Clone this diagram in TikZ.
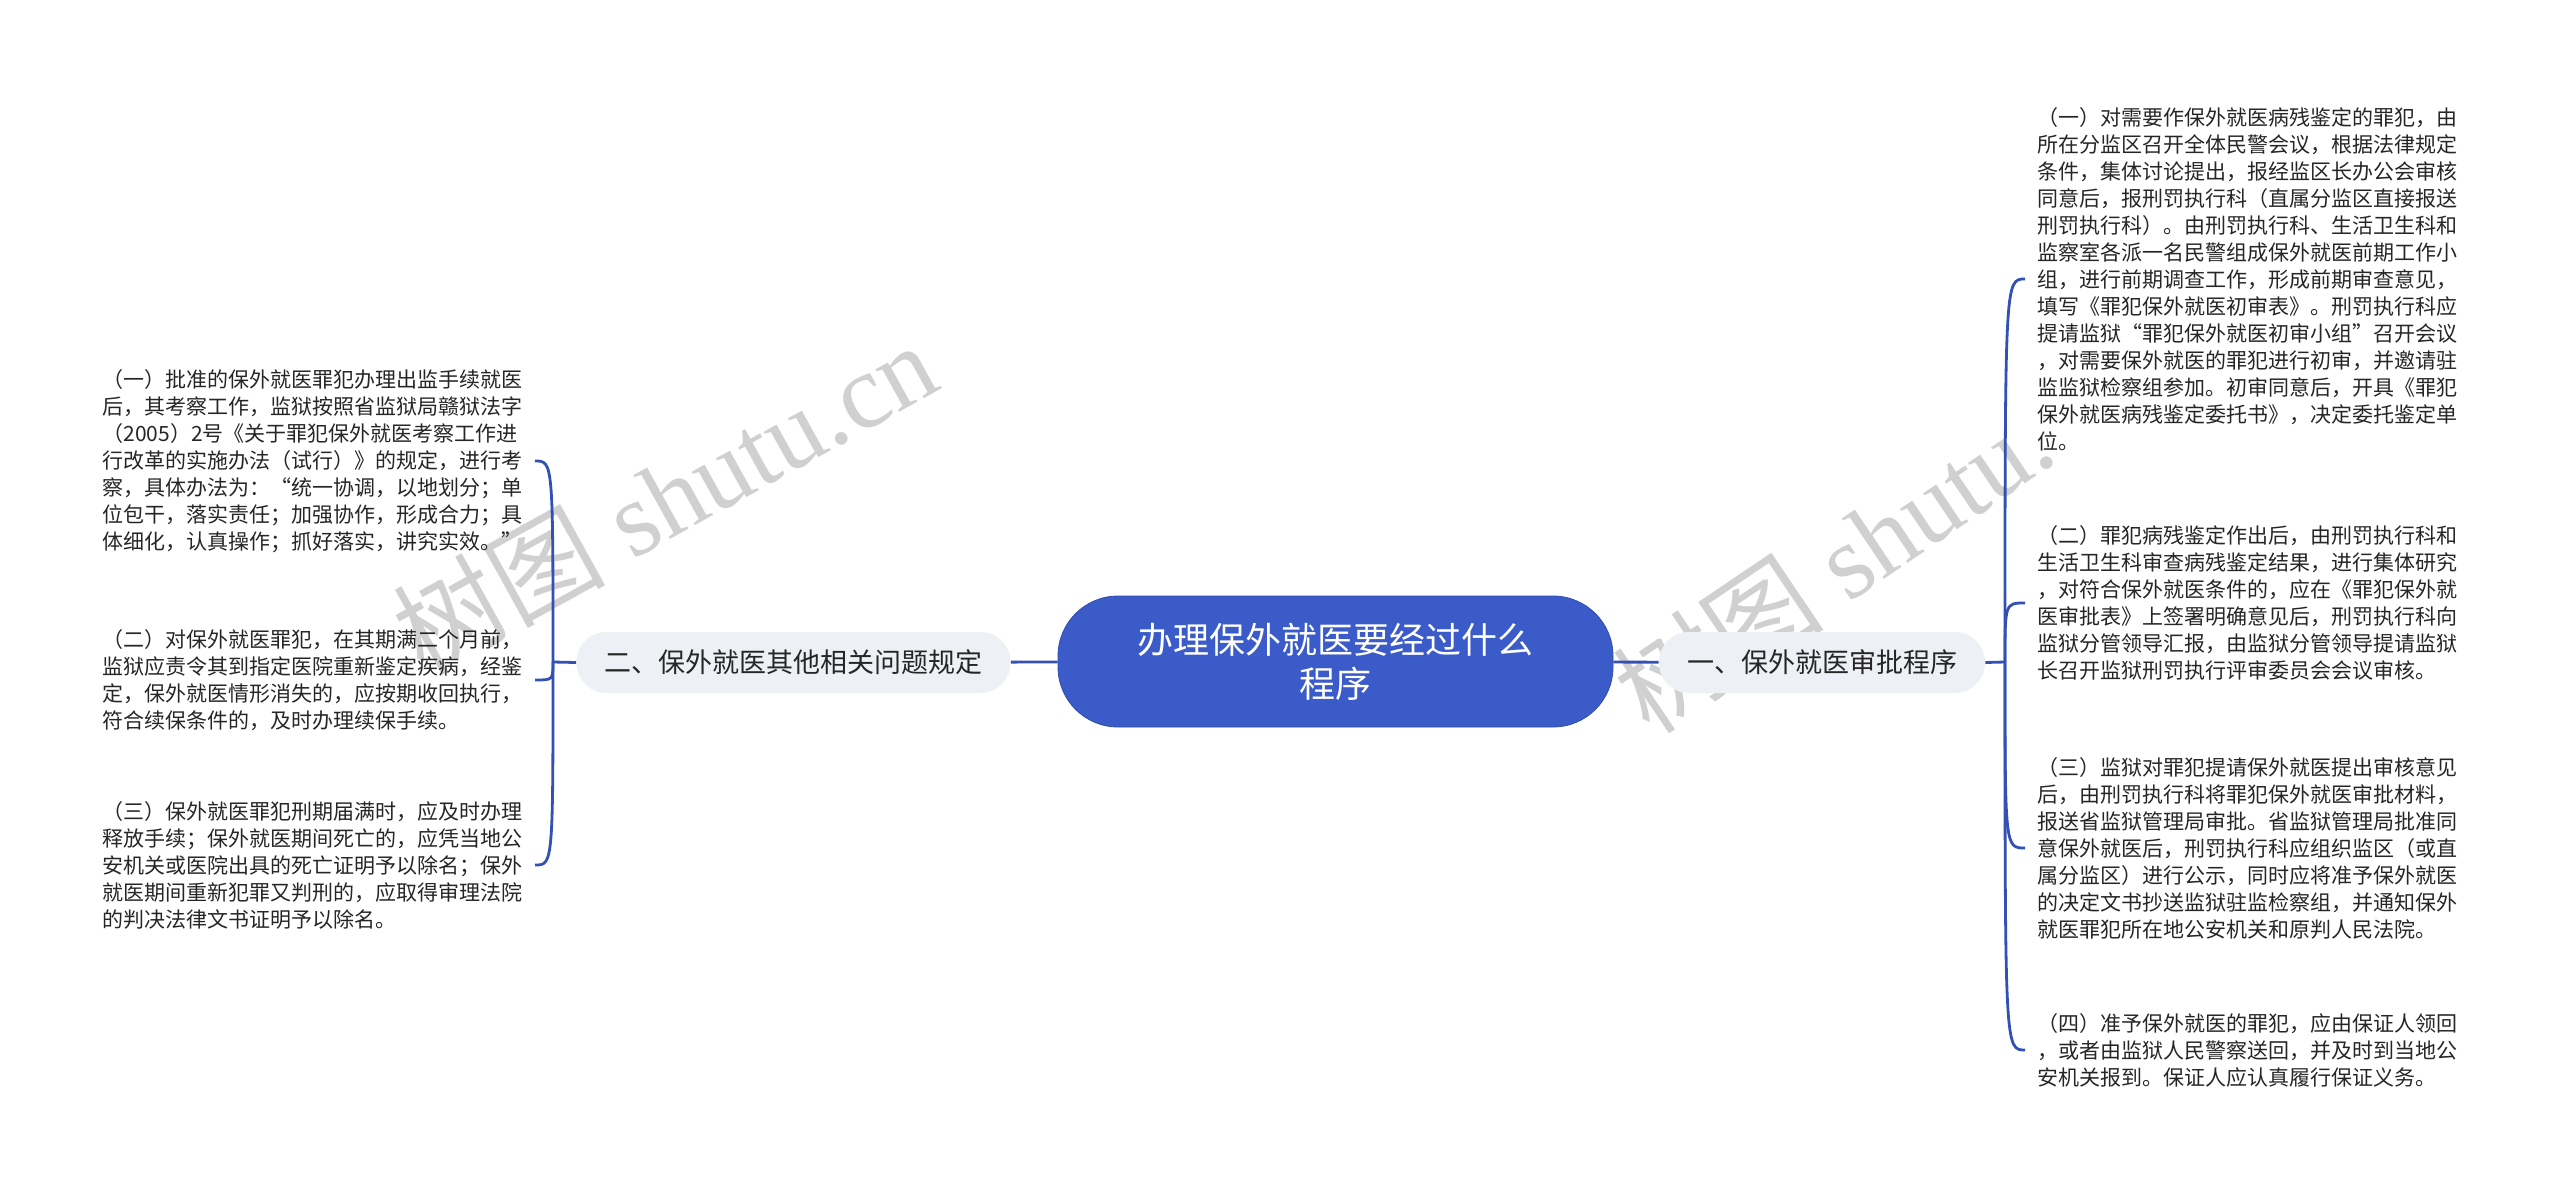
\documentclass[tikz,border=0pt]{standalone}
\usepackage{fontspec}
\newfontfamily\cjk{Noto Sans CJK SC}
\newfontfamily\wmfont{Liberation Serif}
\usetikzlibrary{positioning}

\definecolor{mapblue}{HTML}{3A5BC8}
\definecolor{linkblue}{HTML}{3351B5}
\definecolor{branchgray}{HTML}{EDF0F4}
\definecolor{leaftext}{HTML}{262626}
\definecolor{wmgray}{HTML}{D0D0D0}

\tikzset{
    rootnode/.style={fill=mapblue, draw=mapblue!85!black, rounded corners=30pt, text=white, minimum width=277.5pt, minimum height=65.5pt, align=center, font=\cjk\fontsize{18}{22}\selectfont},
    branchnode/.style={fill=branchgray, rounded corners=15pt, minimum height=30.5pt, inner xsep=14pt, text=leaftext, font=\cjk\fontsize{13.5}{16}\selectfont},
    leafnode/.style={text width=210pt, align=left, inner xsep=6pt, inner ysep=0pt, text=leaftext, font=\cjk\fontsize{10.5}{13.5}\selectfont},
    link/.style={draw=linkblue, line width=1.4pt},
    watermark/.style={text=wmgray, font=\wmfont\fontsize{53}{53}\selectfont}
}

\begin{document}
\begin{tikzpicture}[x=0.5pt, y=-0.5pt]
    % canvas
    \useasboundingbox[fill=white] (0,0) rectangle (2560,1189);

    % watermarks
    \node[watermark, rotate=29] (wmleft) at (664,497) {{\cjk 树图} shutu.cn};
    \node[watermark, rotate=34] (wmright) at (1833,565) {{\cjk 树图} shutu.};

    % root and branches
    \node[rootnode] (root) at (1335.5,661.5) {办理保外就医要经过什么\\程序};
    \node[branchnode] (lbranch) at (793.5,662.5) {二、保外就医其他相关问题规定};
    \node[branchnode] (rbranch) at (1822,662.5) {一、保外就医审批程序};

    \coordinate (lspine) at (553,662);
    \coordinate (rspine) at (2005,662);

    % left leaves
    \node[leafnode, anchor=east] (lleafA) at (535,461) {（一）批准的保外就医罪犯办理出监手续就医\\
        后，其考察工作，监狱按照省监狱局赣狱法字\\
        （2005）2号《关于罪犯保外就医考察工作进\\
        行改革的实施办法（试行）》的规定，进行考\\
        察，具体办法为：“统一协调，以地划分；单\\
        位包干，落实责任；加强协作，形成合力；具\\
        体细化，认真操作；抓好落实，讲究实效。”};
    \node[leafnode, anchor=east] (lleafB) at (535,680) {（二）对保外就医罪犯，在其期满二个月前，\\
        监狱应责令其到指定医院重新鉴定疾病，经鉴\\
        定，保外就医情形消失的，应按期收回执行，\\
        符合续保条件的，及时办理续保手续。};
    \node[leafnode, anchor=east] (lleafC) at (535,865) {（三）保外就医罪犯刑期届满时，应及时办理\\
        释放手续；保外就医期间死亡的，应凭当地公\\
        安机关或医院出具的死亡证明予以除名；保外\\
        就医期间重新犯罪又判刑的，应取得审理法院\\
        的判决法律文书证明予以除名。};

    % right leaves
    \node[leafnode, anchor=west] (rleafA) at (2025,279) {（一）对需要作保外就医病残鉴定的罪犯，由\\
        所在分监区召开全体民警会议，根据法律规定\\
        条件，集体讨论提出，报经监区长办公会审核\\
        同意后，报刑罚执行科（直属分监区直接报送\\
        刑罚执行科）。由刑罚执行科、生活卫生科和\\
        监察室各派一名民警组成保外就医前期工作小\\
        组，进行前期调查工作，形成前期审查意见，\\
        填写《罪犯保外就医初审表》。刑罚执行科应\\
        提请监狱“罪犯保外就医初审小组”召开会议\\
        ，对需要保外就医的罪犯进行初审，并邀请驻\\
        监监狱检察组参加。初审同意后，开具《罪犯\\
        保外就医病残鉴定委托书》，决定委托鉴定单\\
        位。};
    \node[leafnode, anchor=west] (rleafB) at (2025,603) {（二）罪犯病残鉴定作出后，由刑罚执行科和\\
        生活卫生科审查病残鉴定结果，进行集体研究\\
        ，对符合保外就医条件的，应在《罪犯保外就\\
        医审批表》上签署明确意见后，刑罚执行科向\\
        监狱分管领导汇报，由监狱分管领导提请监狱\\
        长召开监狱刑罚执行评审委员会会议审核。};
    \node[leafnode, anchor=west] (rleafC) at (2025,848) {（三）监狱对罪犯提请保外就医提出审核意见\\
        后，由刑罚执行科将罪犯保外就医审批材料，\\
        报送省监狱管理局审批。省监狱管理局批准同\\
        意保外就医后，刑罚执行科应组织监区（或直\\
        属分监区）进行公示，同时应将准予保外就医\\
        的决定文书抄送监狱驻监检察组，并通知保外\\
        就医罪犯所在地公安机关和原判人民法院。};
    \node[leafnode, anchor=west] (rleafD) at (2025,1050) {（四）准予保外就医的罪犯，应由保证人领回\\
        ，或者由监狱人民警察送回，并及时到当地公\\
        安机关报到。保证人应认真履行保证义务。};

    % connectors
    \draw[link] (root) -- (lbranch);
    \draw[link] (root) -- (rbranch);
    \draw[link] (lbranch.west) -- (lspine);
    \draw[link] (rbranch.east) -- (rspine);
    \foreach \leaf in {lleafA, lleafB, lleafC}
        \draw[link] (lspine) .. controls (lspine |- \leaf.east) .. (\leaf.east);
    \foreach \leaf in {rleafA, rleafB, rleafC, rleafD}
        \draw[link] (rspine) .. controls (rspine |- \leaf.west) .. (\leaf.west);
\end{tikzpicture}
\end{document}
